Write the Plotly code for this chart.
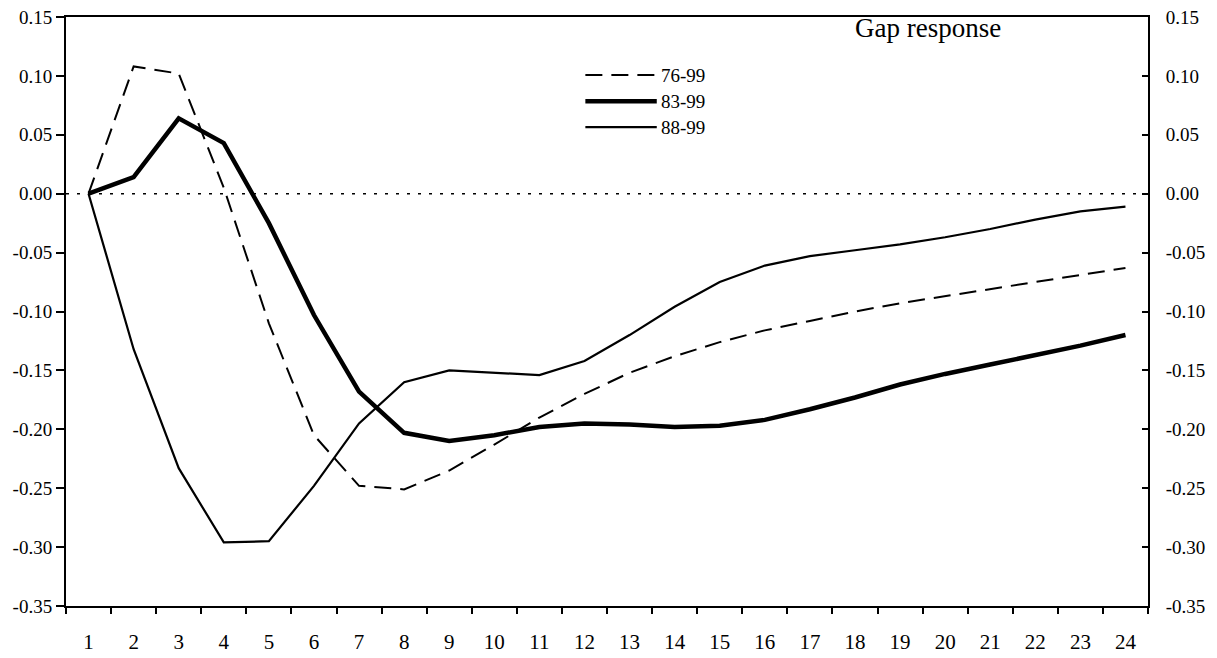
import plotly.graph_objects as go

periods = [str(i) for i in range(1, 25)]

resp_76_99 = [0.000, 0.108, 0.102, 0.005, -0.110, -0.205, -0.248, -0.251, -0.235, -0.213,
              -0.190, -0.170, -0.152, -0.138, -0.126, -0.116, -0.108, -0.100, -0.093, -0.087,
              -0.081, -0.075, -0.069, -0.063]
resp_83_99 = [0.000, 0.014, 0.064, 0.043, -0.025, -0.103, -0.168, -0.203, -0.210, -0.205,
              -0.198, -0.195, -0.196, -0.198, -0.197, -0.192, -0.183, -0.173, -0.162, -0.153,
              -0.145, -0.137, -0.129, -0.120]
resp_88_99 = [0.000, -0.132, -0.233, -0.296, -0.295, -0.248, -0.195, -0.160, -0.150, -0.152,
              -0.154, -0.142, -0.120, -0.096, -0.075, -0.061, -0.053, -0.048, -0.043, -0.037,
              -0.030, -0.022, -0.015, -0.011]

series_names = ["76-99", "83-99", "88-99"]
y_ticks = [0.15, 0.10, 0.05, 0.00, -0.05, -0.10, -0.15, -0.20, -0.25, -0.30, -0.35]
y_tick_text = [f"{v:.2f}" for v in y_ticks]

FONT = "Liberation Serif"
styles = [
    dict(color="black", width=2, dash="17px,9px"),
    dict(color="black", width=4.5),
    dict(color="black", width=2.2),
]

fig = go.Figure()
for name, vals, st in zip(series_names, [resp_76_99, resp_83_99, resp_88_99], styles):
    fig.add_trace(go.Scatter(x=periods, y=vals, name=name, mode="lines",
                             line=st, showlegend=False))
# invisible trace so the right-hand axis is drawn
fig.add_trace(go.Scatter(x=periods, y=resp_88_99, yaxis="y2", mode="lines",
                         line=dict(width=0, color="rgba(0,0,0,0)"),
                         showlegend=False, hoverinfo="skip"))

# dotted zero reference line
fig.add_shape(type="line", xref="paper", x0=0, x1=1, yref="y", y0=0, y1=0,
              line=dict(color="black", width=1.5, dash="3px,8px"))

# hand-drawn legend: long line samples with labels to their right
legend_rows = [0.9015, 0.857, 0.813]
for name, st, yy in zip(series_names, styles, legend_rows):
    fig.add_shape(type="line", xref="paper", yref="paper", x0=0.480, x1=0.546,
                  y0=yy, y1=yy, line=st)
    fig.add_annotation(text=name, xref="paper", yref="paper", x=0.548, y=yy,
                       xanchor="left", yanchor="middle", showarrow=False,
                       font=dict(family=FONT, size=19, color="black"))

fig.add_annotation(text="Gap response", xref="paper", yref="paper",
                   x=0.797, y=0.982, xanchor="center", yanchor="middle",
                   showarrow=False, font=dict(family=FONT, size=27, color="black"))

axis_y = dict(range=[-0.35, 0.15], tickvals=y_ticks, ticktext=y_tick_text,
              showgrid=False, zeroline=False, showline=True, linecolor="black",
              linewidth=2, tickcolor="black", tickwidth=2, automargin=False,
              tickfont=dict(family=FONT, size=19, color="black"))

fig.update_layout(
    width=1217, height=658,
    margin=dict(l=66, r=69, t=17, b=52),
    paper_bgcolor="white", plot_bgcolor="white",
    font=dict(family=FONT, size=19, color="black"),
    xaxis=dict(type="category", range=[-0.5, 23.5], tickson="boundaries",
               ticks="outside", ticklen=6, tickwidth=1.5, tickcolor="black",
               showgrid=False, zeroline=False, showline=True, automargin=False,
               linecolor="black", linewidth=2, mirror=True, ticklabelstandoff=16,
               tickfont=dict(family=FONT, size=21, color="black")),
    yaxis=dict(**axis_y, side="left", ticks="outside", ticklen=8),
    yaxis2=dict(**axis_y, side="right", overlaying="y", ticks="inside", ticklen=6,
                ticklabelstandoff=12),
    showlegend=False,
)

fig.write_html("out.html")
